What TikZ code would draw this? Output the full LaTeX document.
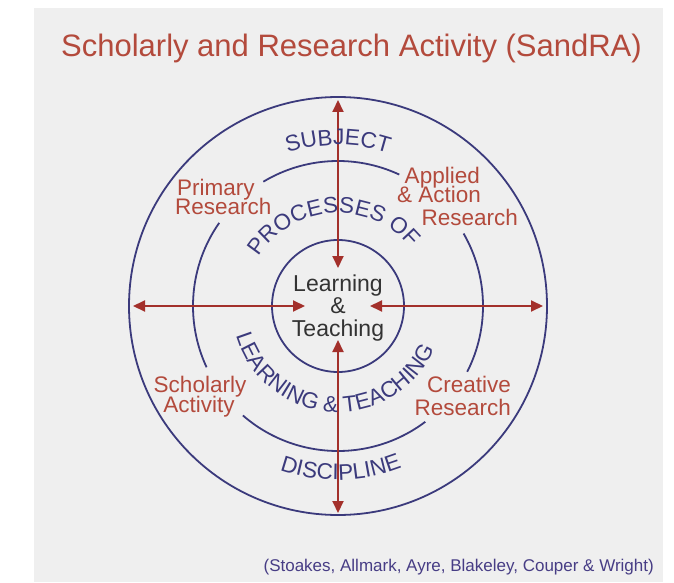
\documentclass[tikz,border=0pt]{standalone}
\usepackage{fontspec}
\setmainfont{Liberation Sans}
\usetikzlibrary{arrows.meta,decorations.text,calc}
\definecolor{panel}{HTML}{EFEFEF}
\definecolor{navy}{HTML}{3B3A7C}
\definecolor{arrowred}{HTML}{A3302B}
\definecolor{labelred}{HTML}{B34A3C}
\definecolor{centertext}{HTML}{333333}
\definecolor{footblue}{HTML}{473D85}
\tikzset{
  ring/.style={draw=navy, line width=1.8pt},
  link/.style={draw=arrowred, line width=2pt, {Triangle[length=12pt,width=11pt]}-{Triangle[length=12pt,width=11pt]}},
  redlabel/.style={text=labelred, inner sep=0pt, font=\fontsize{22.5}{22.5}\selectfont},
  curved/.style={decorate, decoration={text along path, text align=center, text={|\fontsize{22.5}{22.5}\selectfont\color{navy}|#1}}}
}
\begin{document}
\begin{tikzpicture}[x=1pt,y=1pt]
\useasboundingbox (0,0) rectangle (674,582);
\fill[panel] (34,0) rectangle (663,574);
\coordinate (C) at (338,276);
% title
\node[text=labelred, inner sep=0pt, anchor=base east, font=\fontsize{31}{31}\selectfont] (title) at (642,525) {Scholarly and Research Activity (SandRA)};
% rings
\draw[ring] (C) circle[radius=209pt];
\draw[ring] (C) circle[radius=66pt];
\draw[ring] ($(C)+(65:145pt)$) arc[start angle=65,end angle=121,radius=145pt];
\draw[ring] ($(C)+(145:145pt)$) arc[start angle=145,end angle=205,radius=145pt];
\draw[ring] ($(C)+(229:145pt)$) arc[start angle=229,end angle=307,radius=145pt];
\draw[ring] ($(C)+(333:145pt)$) arc[start angle=333,end angle=390,radius=145pt];
% arrow ends
\coordinate (tOut) at (338,482);
\coordinate (tIn) at (338,314);
\coordinate (bIn) at (338,242);
\coordinate (bOut) at (338,69);
\coordinate (lOut) at (133,276);
\coordinate (lIn) at (305,276);
\coordinate (rIn) at (370,276);
\coordinate (rOut) at (543,276);
\draw[link] (tOut) -- (tIn);
\draw[link] (bIn) -- (bOut);
\draw[link] (lOut) -- (lIn);
\draw[link] (rIn) -- (rOut);
% centre text
\node[text=centertext, align=center, inner sep=0pt, font=\fontsize{23}{22.5}\selectfont] (centre) at (338,274) {Learning\\\&\\Teaching};
% curved texts
\path[curved={SUBJECT}] ($(C)+(120:161pt)$) arc[start angle=120,end angle=60,radius=161pt];
\path[curved={DISCIPLINE}] ($(C)+(236:174pt)$) arc[start angle=236,end angle=306,radius=174pt];
\path[curved={PROCESSES OF}] ($(C)+(163.5:93pt)$) arc[start angle=163.5,end angle=23.5,radius=93pt];
\path[curved={LEARNING {\&} TEACHING}] ($(C)+(186:106pt)$) arc[start angle=186,end angle=346,radius=106pt];
% red labels
\node[redlabel, anchor=base west] (pr1) at (177,387) {Primary};
\node[redlabel, anchor=base west] (pr2) at (175,367) {Research};
\node[redlabel, anchor=base east] (ap1) at (480,399) {Applied};
\node[redlabel, anchor=base east] (ap2) at (481,379) {\& Action};
\node[redlabel, anchor=base east] (ap3) at (518,357) {Research};
\node[redlabel, anchor=base] (sc1) at (200,190) {Scholarly};
\node[redlabel, anchor=base] (sc2) at (199,170) {Activity};
\node[redlabel, anchor=base east] (cr1) at (511,190) {Creative};
\node[redlabel, anchor=base east] (cr2) at (511,167) {Research};
% footer
\node[text=footblue, inner sep=0pt, anchor=base east, font=\fontsize{17}{17}\selectfont] (foot) at (654,11) {(Stoakes, Allmark, Ayre, Blakeley, Couper \& Wright)};
\end{tikzpicture}
\end{document}
